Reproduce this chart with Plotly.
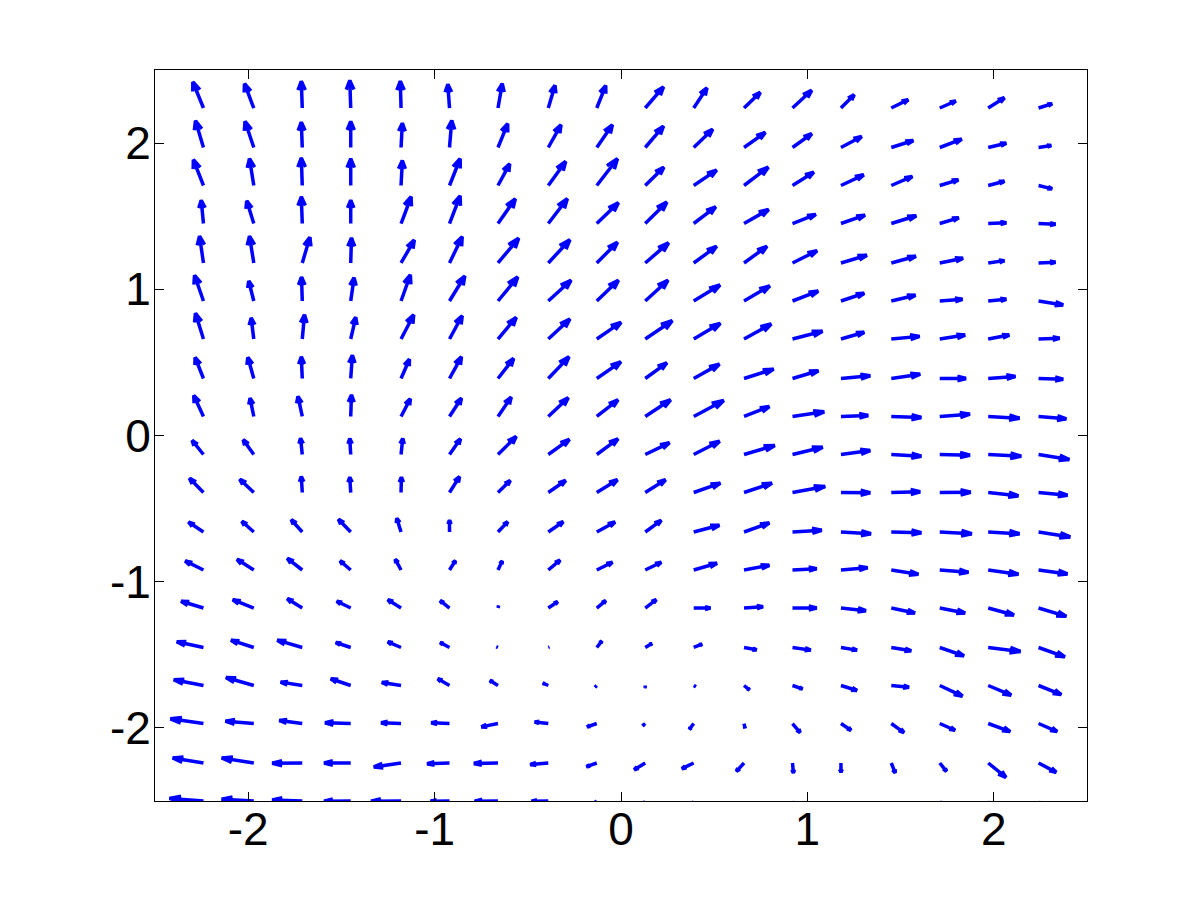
import plotly.graph_objects as go

# grid of arrow tails
x_grid = [-2.24, -1.97, -1.71, -1.45, -1.18, -0.92, -0.66, -0.39, -0.13,
          0.13, 0.39, 0.66, 0.92, 1.18, 1.45, 1.71, 1.97, 2.24]
y_grid = [2.24, 1.97, 1.71, 1.45, 1.18, 0.92, 0.66, 0.39, 0.13, -0.13,
          -0.39, -0.66, -0.92, -1.18, -1.45, -1.71, -1.97, -2.24, -2.5]

# arrow components (data units), one row per y_grid value, top to bottom
U = [
    [-0.057, -0.050, -0.005, -0.005, -0.004, -0.009, 0.023, 0.036, 0.048, 0.098, 0.071, 0.087, 0.103, 0.071, 0.091, 0.086, 0.087, 0.073],
    [-0.043, -0.047, -0.005, 0.000, 0.007, 0.012, 0.052, 0.068, 0.084, 0.098, 0.102, 0.114, 0.103, 0.111, 0.118, 0.118, 0.097, 0.068],
    [-0.054, -0.023, -0.005, 0.000, 0.007, 0.057, 0.063, 0.093, 0.111, 0.100, 0.123, 0.130, 0.114, 0.122, 0.113, 0.100, 0.087, 0.073],
    [-0.012, -0.038, -0.005, 0.000, 0.054, 0.057, 0.093, 0.102, 0.116, 0.116, 0.118, 0.132, 0.125, 0.129, 0.134, 0.102, 0.097, 0.091],
    [-0.021, -0.023, 0.041, 0.004, 0.071, 0.068, 0.111, 0.116, 0.111, 0.125, 0.123, 0.123, 0.132, 0.139, 0.132, 0.125, 0.087, 0.091],
    [-0.048, -0.027, -0.004, 0.018, 0.050, 0.082, 0.106, 0.122, 0.116, 0.122, 0.141, 0.138, 0.138, 0.125, 0.130, 0.122, 0.097, 0.132],
    [-0.043, -0.014, 0.012, 0.027, 0.068, 0.068, 0.098, 0.116, 0.130, 0.145, 0.143, 0.146, 0.161, 0.125, 0.152, 0.136, 0.113, 0.113],
    [-0.045, -0.032, -0.005, 0.009, 0.045, 0.064, 0.084, 0.111, 0.129, 0.116, 0.138, 0.159, 0.139, 0.157, 0.155, 0.141, 0.146, 0.132],
    [-0.052, -0.020, -0.023, 0.004, 0.050, 0.064, 0.071, 0.107, 0.114, 0.136, 0.161, 0.136, 0.170, 0.146, 0.161, 0.162, 0.168, 0.149],
    [-0.061, -0.057, -0.009, -0.005, 0.009, 0.059, 0.098, 0.113, 0.114, 0.130, 0.139, 0.165, 0.162, 0.157, 0.161, 0.162, 0.177, 0.165],
    [-0.075, -0.075, -0.005, -0.005, 0.002, 0.054, 0.066, 0.093, 0.111, 0.109, 0.143, 0.150, 0.175, 0.157, 0.155, 0.166, 0.162, 0.155],
    [-0.080, -0.064, -0.059, -0.066, -0.023, 0.000, 0.052, 0.080, 0.098, 0.086, 0.138, 0.136, 0.157, 0.161, 0.161, 0.172, 0.168, 0.170],
    [-0.098, -0.090, -0.080, -0.057, -0.031, 0.032, 0.023, 0.063, 0.084, 0.086, 0.125, 0.136, 0.130, 0.143, 0.145, 0.154, 0.162, 0.155],
    [-0.120, -0.113, -0.080, -0.075, -0.071, -0.050, 0.003, 0.050, 0.048, 0.059, 0.090, 0.102, 0.130, 0.134, 0.127, 0.136, 0.138, 0.149],
    [-0.143, -0.122, -0.134, -0.080, -0.071, -0.050, -0.007, 0.004, 0.027, 0.036, 0.045, 0.068, 0.098, 0.086, 0.107, 0.130, 0.173, 0.141],
    [-0.159, -0.149, -0.116, -0.107, -0.103, -0.063, -0.043, -0.029, -0.008, 0.000, 0.010, 0.029, 0.054, 0.086, 0.095, 0.122, 0.123, 0.122],
    [-0.177, -0.152, -0.123, -0.138, -0.107, -0.098, -0.089, -0.073, -0.052, -0.013, -0.023, 0.005, 0.041, 0.054, 0.068, 0.082, 0.118, 0.100],
    [-0.165, -0.172, -0.161, -0.143, -0.146, -0.120, -0.129, -0.097, -0.055, -0.059, -0.063, -0.041, 0.005, 0.000, 0.021, 0.036, 0.095, 0.095],
    [-0.182, -0.172, -0.161, -0.143, -0.161, -0.102, -0.125, -0.090, -0.020, -0.010, -0.010, 0.000, 0.005, 0.000, 0.000, 0.010, 0.010, 0.010],
]
V = [
    [0.178, 0.166, 0.183, 0.189, 0.183, 0.162, 0.166, 0.155, 0.153, 0.144, 0.137, 0.107, 0.121, 0.091, 0.057, 0.048, 0.070, 0.029],
    [0.183, 0.178, 0.173, 0.178, 0.166, 0.185, 0.162, 0.155, 0.155, 0.146, 0.125, 0.103, 0.094, 0.075, 0.048, 0.057, 0.029, 0.014],
    [0.176, 0.183, 0.189, 0.183, 0.171, 0.183, 0.148, 0.164, 0.183, 0.125, 0.105, 0.125, 0.091, 0.073, 0.062, 0.039, 0.029, -0.023],
    [0.159, 0.155, 0.183, 0.159, 0.183, 0.189, 0.169, 0.169, 0.142, 0.146, 0.114, 0.096, 0.062, 0.057, 0.053, 0.039, 0.005, -0.005],
    [0.183, 0.183, 0.176, 0.171, 0.157, 0.180, 0.169, 0.159, 0.142, 0.137, 0.114, 0.114, 0.084, 0.053, 0.046, 0.032, 0.016, 0.005],
    [0.176, 0.137, 0.164, 0.159, 0.178, 0.171, 0.164, 0.142, 0.142, 0.142, 0.109, 0.103, 0.068, 0.053, 0.039, 0.012, 0.012, -0.027],
    [0.176, 0.144, 0.166, 0.148, 0.166, 0.159, 0.148, 0.137, 0.114, 0.125, 0.107, 0.103, 0.053, 0.046, 0.018, 0.027, 0.027, 0.005],
    [0.144, 0.144, 0.148, 0.159, 0.132, 0.148, 0.137, 0.148, 0.114, 0.107, 0.098, 0.064, 0.053, 0.018, 0.029, 0.000, 0.014, -0.005],
    [0.144, 0.125, 0.137, 0.148, 0.121, 0.125, 0.132, 0.128, 0.114, 0.114, 0.109, 0.068, 0.032, 0.007, -0.007, 0.016, -0.012, -0.016],
    [0.096, 0.101, 0.111, 0.109, 0.109, 0.107, 0.123, 0.103, 0.107, 0.080, 0.091, 0.062, 0.050, 0.027, -0.012, -0.005, -0.012, -0.034],
    [0.098, 0.091, 0.109, 0.105, 0.105, 0.109, 0.082, 0.082, 0.087, 0.087, 0.064, 0.064, 0.041, -0.002, 0.005, 0.002, -0.023, -0.018],
    [0.068, 0.073, 0.084, 0.087, 0.094, 0.080, 0.070, 0.070, 0.068, 0.080, 0.046, 0.062, 0.012, -0.012, -0.005, -0.012, -0.012, -0.034],
    [0.062, 0.073, 0.080, 0.062, 0.073, 0.064, 0.062, 0.068, 0.053, 0.053, 0.046, 0.032, 0.009, 0.016, -0.029, -0.016, -0.029, -0.027],
    [0.046, 0.057, 0.064, 0.046, 0.057, 0.050, 0.014, 0.043, 0.050, 0.057, 0.000, 0.009, 0.000, -0.018, -0.034, -0.034, -0.048, -0.057],
    [0.039, 0.050, 0.050, 0.034, 0.039, 0.034, 0.004, 0.002, 0.044, 0.027, 0.023, -0.016, -0.018, -0.018, -0.023, -0.057, -0.027, -0.064],
    [0.039, 0.055, 0.023, 0.046, 0.021, 0.046, 0.034, 0.016, -0.010, -0.015, -0.007, -0.030, -0.023, -0.034, -0.012, -0.073, -0.066, -0.062],
    [0.032, 0.016, 0.021, 0.005, 0.005, 0.005, -0.023, 0.011, -0.023, -0.014, -0.039, -0.030, -0.062, -0.046, -0.062, -0.046, -0.055, -0.055],
    [0.034, 0.034, -0.002, 0.000, -0.027, -0.005, -0.003, -0.011, -0.025, -0.046, -0.039, -0.057, -0.068, -0.064, -0.068, -0.057, -0.098, -0.064],
    [0.018, 0.012, 0.007, -0.002, -0.002, -0.002, -0.002, -0.002, -0.020, -0.030, -0.040, -0.050, -0.050, -0.050, -0.050, -0.050, -0.060, -0.060],
]

tick_vals = [-2, -1, 0, 1, 2]
tick_text = ["-2", "-1", "0", "1", "2"]

# matlab style arrow heads
ALPHA = 0.33
BETA = 0.33

xs, ys = [], []
for i, y0 in enumerate(y_grid):
    for j, x0 in enumerate(x_grid):
        u = U[i][j]
        v = V[i][j]
        x1 = x0 + u
        y1 = y0 + v
        xs += [x0, x1, None]
        ys += [y0, y1, None]
        xs += [x1 - ALPHA * (u + BETA * v), x1, x1 - ALPHA * (u - BETA * v), None]
        ys += [y1 - ALPHA * (v - BETA * u), y1, y1 - ALPHA * (v + BETA * u), None]

fig = go.Figure()
fig.add_trace(
    go.Scatter(
        x=xs,
        y=ys,
        mode="lines",
        line=dict(color="#0000ff", width=3.5),
        hoverinfo="skip",
        showlegend=False,
    )
)

axis_style = dict(
    range=[-2.5, 2.5],
    tickvals=tick_vals,
    ticktext=tick_text,
    ticks="inside",
    ticklen=9,
    tickwidth=1,
    tickcolor="black",
    showline=True,
    linecolor="black",
    linewidth=1,
    mirror="ticks",
    showgrid=False,
    zeroline=False,
    tickfont=dict(family="Liberation Sans, Arial", size=46, color="black"),
)

# page body adds 8px, so the figure is drawn 8px smaller
fig.update_layout(
    width=1193,
    height=892,
    margin=dict(l=147, r=114, t=62, b=99),
    paper_bgcolor="white",
    plot_bgcolor="white",
    xaxis=axis_style,
    yaxis=axis_style,
)
fig.update_xaxes(ticklabelstandoff=-12)
fig.update_yaxes(ticklabelstandoff=-6)

fig.write_html("out.html")
